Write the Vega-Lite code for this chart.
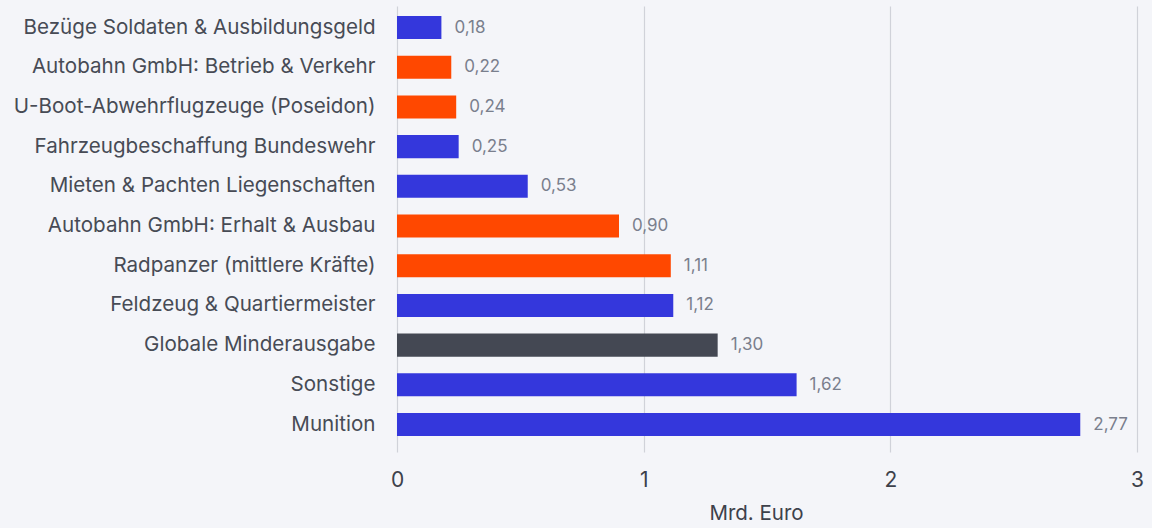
{
  "$schema": "https://vega.github.io/schema/vega-lite/v6.json",
  "width": 740,
  "height": 446,
  "autosize": {"type": "none"},
  "padding": {"left": 397, "top": 6, "right": 15, "bottom": 76},
  "background": "#f4f5f9",
  "config": {
    "view": {"stroke": null},
    "font": "Inter",
    "locale": {"number": {"decimal": ",", "thousands": ".", "grouping": [3], "currency": ["", " €"]}}
  },
  "data": {
    "values": [
      {"posten": "Bezüge Soldaten & Ausbildungsgeld", "wert": 0.18, "gruppe": "Verteidigung"},
      {"posten": "Autobahn GmbH: Betrieb & Verkehr", "wert": 0.22, "gruppe": "Verkehr"},
      {"posten": "U-Boot-Abwehrflugzeuge (Poseidon)", "wert": 0.24, "gruppe": "Verkehr"},
      {"posten": "Fahrzeugbeschaffung Bundeswehr", "wert": 0.25, "gruppe": "Verteidigung"},
      {"posten": "Mieten & Pachten Liegenschaften", "wert": 0.53, "gruppe": "Verteidigung"},
      {"posten": "Autobahn GmbH: Erhalt & Ausbau", "wert": 0.90, "gruppe": "Verkehr"},
      {"posten": "Radpanzer (mittlere Kräfte)", "wert": 1.11, "gruppe": "Verkehr"},
      {"posten": "Feldzeug & Quartiermeister", "wert": 1.12, "gruppe": "Verteidigung"},
      {"posten": "Globale Minderausgabe", "wert": 1.30, "gruppe": "Global"},
      {"posten": "Sonstige", "wert": 1.62, "gruppe": "Verteidigung"},
      {"posten": "Munition", "wert": 2.77, "gruppe": "Verteidigung"}
    ]
  },
  "encoding": {
    "y": {
      "field": "posten",
      "type": "nominal",
      "sort": {"field": "wert", "order": "ascending"},
      "scale": {"paddingInner": 0.42, "paddingOuter": 0.327, "align": 0.385},
      "axis": {
        "title": null,
        "ticks": false,
        "domain": false,
        "labelPadding": 22,
        "labelFontSize": 20.6,
        "labelColor": "#474b55",
        "labelLimit": 400
      }
    },
    "x": {
      "field": "wert",
      "type": "quantitative",
      "scale": {"domain": [0, 3], "nice": false},
      "axis": {
        "title": "Mrd. Euro",
        "titleFontSize": 20.5,
        "titleFontWeight": "normal",
        "titleColor": "#3d414b",
        "titlePadding": 13,
        "titleX": 359,
        "values": [0, 1, 2, 3],
        "format": "d",
        "ticks": false,
        "domain": false,
        "labelFlush": false,
        "labelPadding": 17,
        "labelFontSize": 21,
        "labelColor": "#3d414b",
        "gridColor": "#d0d2d9",
        "gridWidth": 1.2
      }
    }
  },
  "layer": [
    {
      "mark": {"type": "bar"},
      "encoding": {
        "color": {
          "field": "gruppe",
          "type": "nominal",
          "scale": {"domain": ["Verteidigung", "Verkehr", "Global"], "range": ["#3437dc", "#ff4800", "#444853"]},
          "legend": null
        }
      }
    },
    {
      "mark": {"type": "text", "align": "left", "baseline": "middle", "dx": 13, "fontSize": 17, "color": "#7a7f8d"},
      "encoding": {
        "text": {"field": "wert", "type": "quantitative", "format": ".2f"}
      }
    }
  ]
}
